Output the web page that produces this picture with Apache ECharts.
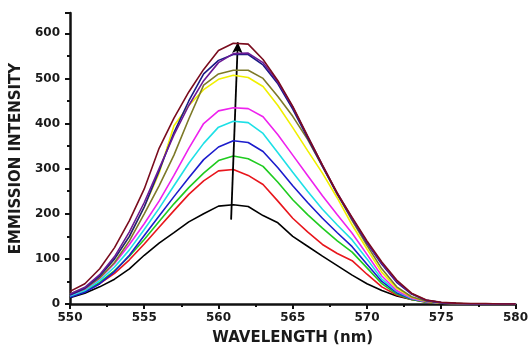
<!DOCTYPE html>
<html>
<head>
<meta charset="utf-8">
<script src="https://cdn.jsdelivr.net/npm/echarts@6/dist/echarts.min.js"></script>
<style>
  html, body { margin: 0; padding: 0; background: #fff; }
  #emissionChart { width: 531px; height: 351px; }
</style>
</head>
<body>
<div id="emissionChart"></div>
<script>
// wavelength 550..580 nm, one point per nm
var wavelengths = [550, 551, 552, 553, 554, 555, 556, 557, 558, 559, 560, 561, 562, 563, 564, 565,
                   566, 567, 568, 569, 570, 571, 572, 573, 574, 575, 576, 577, 578, 579, 580];

// emission intensity for each curve (bottom to top)
var blackData   = [14, 24, 38, 55, 78, 108, 135, 158, 182, 200, 217, 220, 216, 196, 180, 150, 128, 106, 85, 64, 45, 30, 18, 10, 5, 2, 1, 0, 0, 0, 0];
var redData     = [17, 28, 45, 68, 98, 133, 170, 207, 243, 273, 295, 298, 285, 265, 228, 190, 160, 132, 112, 96, 66, 38, 20, 10, 4, 2, 1, 0, 0, 0, 0];
var greenData   = [17, 29, 48, 74, 106, 143, 183, 222, 258, 290, 318, 328, 322, 305, 270, 231, 198, 168, 140, 115, 80, 45, 22, 10, 4, 2, 1, 0, 0, 0, 0];
var blueData    = [15, 26, 45, 72, 108, 152, 195, 238, 280, 320, 348, 362, 358, 338, 302, 262, 225, 190, 158, 127, 88, 50, 25, 11, 5, 2, 1, 0, 0, 0, 0];
var cyanData    = [18, 30, 52, 82, 120, 165, 212, 262, 312, 356, 392, 405, 402, 378, 335, 292, 250, 210, 175, 142, 100, 55, 28, 12, 5, 2, 1, 0, 0, 0, 0];
var magentaData = [20, 33, 57, 90, 132, 178, 228, 285, 345, 400, 428, 435, 433, 415, 375, 330, 285, 240, 198, 157, 110, 62, 30, 13, 5, 2, 1, 0, 0, 0, 0];
var yellowData  = [22, 36, 62, 100, 150, 215, 290, 395, 440, 475, 498, 507, 502, 482, 440, 391, 340, 290, 235, 175, 122, 70, 35, 15, 6, 2, 1, 0, 0, 0, 0];
var oliveData   = [21, 34, 58, 92, 140, 200, 262, 330, 410, 485, 510, 518, 518, 500, 460, 416, 365, 305, 245, 185, 130, 78, 38, 16, 6, 2, 1, 0, 0, 0, 0];
var navyData    = [20, 35, 62, 100, 150, 215, 295, 380, 450, 510, 540, 553, 553, 530, 488, 432, 368, 305, 243, 188, 135, 88, 48, 22, 8, 3, 1, 0, 0, 0, 0];
var purpleData  = [22, 37, 65, 105, 160, 225, 300, 375, 440, 495, 535, 555, 556, 535, 492, 437, 372, 308, 246, 190, 137, 90, 50, 23, 8, 3, 1, 0, 0, 0, 0];
var maroonData  = [28, 45, 78, 125, 185, 255, 345, 412, 470, 520, 562, 578, 576, 542, 495, 438, 372, 308, 245, 192, 140, 93, 53, 24, 9, 4, 2, 1, 1, 0, 0];

var curveColors = ['#000000', '#e8161c', '#1fcb1f', '#1c1ccc', '#1ee0e6', '#ee22ee',
                   '#f0f000', '#7d7a28', '#1a1a85', '#6b1a95', '#7a0c1e'];
var curveData = [blackData, redData, greenData, blueData, cyanData, magentaData,
                 yellowData, oliveData, navyData, purpleData, maroonData];

// arrow drawn across the peaks: [wavelength, intensity] start and end
var arrowStart = [560.85, 187];
var arrowEnd = [561.3, 580];

var xTicks = [550, 555, 560, 565, 570, 575, 580];
var yTicks = [0, 100, 200, 300, 400, 500, 600];

var myChart = echarts.init(document.getElementById('emissionChart'));

var seriesList = [];
for (var i = 0; i < curveData.length; i++) {
    var points = [];
    for (var j = 0; j < wavelengths.length; j++) {
        points.push([wavelengths[j], curveData[i][j]]);
    }
    seriesList.push({
        type: 'line',
        data: points,
        showSymbol: false,
        symbol: 'none',
        lineStyle: { color: curveColors[i], width: 1.6 },
        itemStyle: { color: curveColors[i] },
        z: 2 + i
    });
}
// the arrow rides on the last series
seriesList[seriesList.length - 1].markLine = {
    silent: true,
    symbol: ['none', 'arrow'],
    symbolSize: [8, 11],
    label: { show: false },
    lineStyle: { color: '#000', width: 1.8, type: 'solid' },
    data: [[{ coord: arrowStart }, { coord: arrowEnd }]]
};

var axisFont = { fontFamily: 'DejaVu Sans', fontWeight: 'bold', fontSize: 12, color: '#1a1a1a' };

var option = {
    animation: false,
    backgroundColor: '#fff',
    grid: { left: 70, right: 14, top: 13, bottom: 47 },
    xAxis: {
        type: 'value',
        min: xTicks[0],
        max: xTicks[xTicks.length - 1],
        interval: 5,
        name: 'WAVELENGTH (nm)',
        nameLocation: 'middle',
        nameGap: 27,
        nameTextStyle: { fontFamily: 'DejaVu Sans', fontWeight: 'bold', fontSize: 15, color: '#1a1a1a' },
        axisLine: { lineStyle: { color: '#111', width: 2.5 } },
        axisTick: { inside: false, length: 5, lineStyle: { color: '#111', width: 2 } },
        minorTick: { show: true, splitNumber: 2, length: 3, lineStyle: { color: '#111', width: 2 } },
        axisLabel: Object.assign({ margin: 8 }, axisFont),
        splitLine: { show: false }
    },
    yAxis: {
        type: 'value',
        min: yTicks[0],
        max: 645,
        interval: 100,
        name: 'EMMISSION INTENSITY',
        nameLocation: 'middle',
        nameGap: 46,
        nameTextStyle: { fontFamily: 'DejaVu Sans', fontWeight: 'bold', fontSize: 15, color: '#1a1a1a' },
        axisLine: { show: true, lineStyle: { color: '#111', width: 2.5 } },
        axisTick: { show: true, inside: false, length: 5, lineStyle: { color: '#111', width: 2 } },
        minorTick: { show: true, splitNumber: 2, length: 3, lineStyle: { color: '#111', width: 2 } },
        axisLabel: Object.assign({ margin: 10, showMaxLabel: false }, axisFont),
        splitLine: { show: false }
    },
    series: seriesList
};

myChart.setOption(option);
</script>
</body>
</html>
